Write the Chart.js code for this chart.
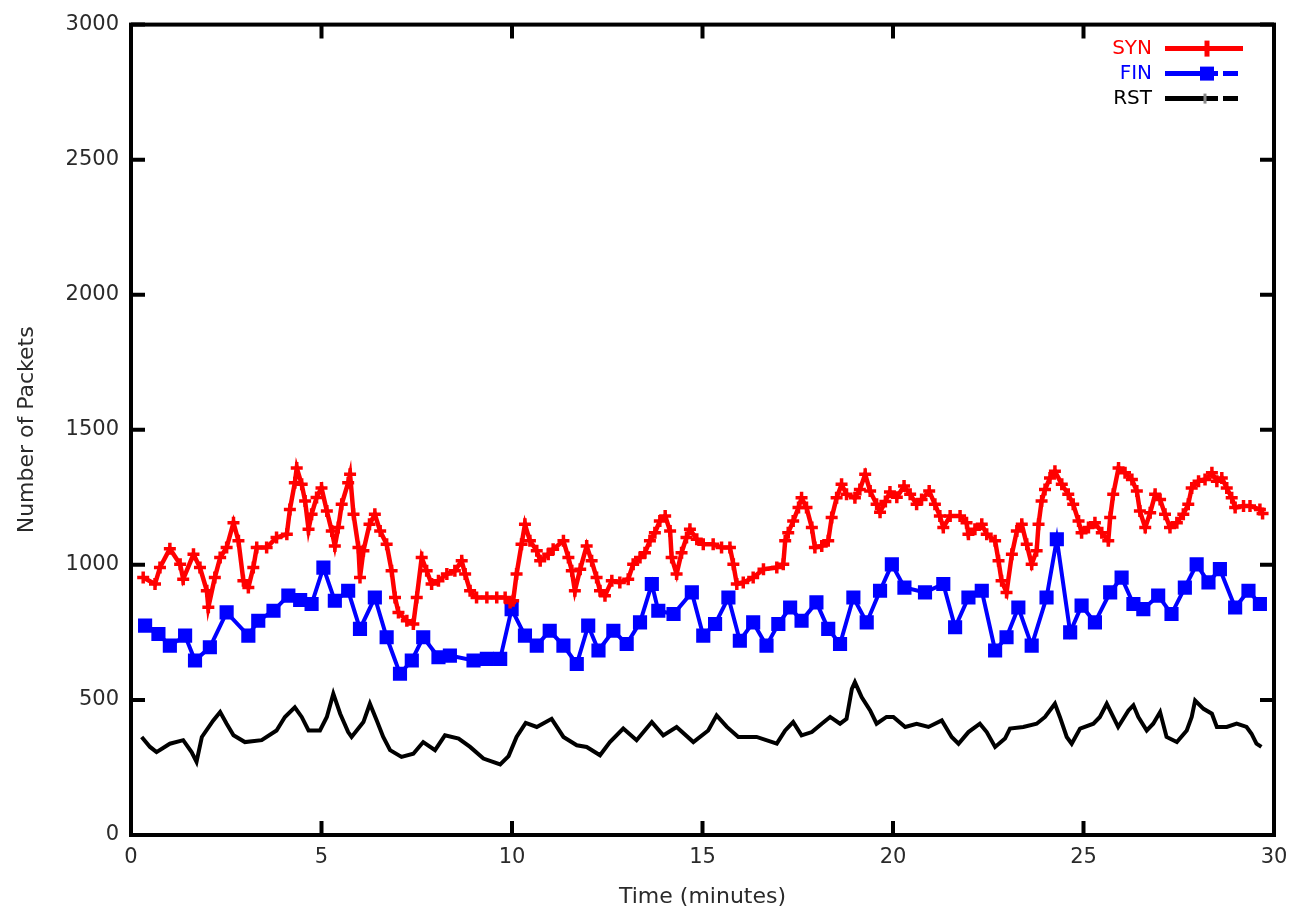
<!DOCTYPE html>
<html>
<head>
<meta charset="utf-8">
<script src="https://cdn.jsdelivr.net/npm/chart.js@4.4.1/dist/chart.umd.min.js"></script>
<style>
html,body{margin:0;padding:0;background:#fff;}
#wrap{width:1300px;height:916px;position:relative;}
</style>
</head>
<body>
<div id="wrap"><canvas id="c"></canvas></div>
<script>
const xTicks = [0, 5, 10, 15, 20, 25, 30];
const yTicks = [0, 500, 1000, 1500, 2000, 2500, 3000];
const seriesNames = ['SYN', 'FIN', 'RST'];

const synTime = [0.32,0.63,0.76,1.02,1.29,1.37,1.64,1.81,1.99,2.03,2.2,2.34,2.51,2.69,2.82,2.95,3.08,3.21,3.3,3.56,3.82,4.09,4.17,4.3,4.35,4.48,4.57,4.66,4.74,4.87,5.0,5.14,5.27,5.35,5.44,5.53,5.7,5.75,5.84,5.97,6.01,6.1,6.26,6.4,6.54,6.71,6.84,6.93,7.02,7.24,7.41,7.5,7.63,7.76,7.89,8.07,8.29,8.5,8.68,8.77,8.9,9.07,9.34,9.6,9.82,9.95,10.03,10.12,10.25,10.34,10.47,10.65,10.74,10.95,11.08,11.35,11.48,11.57,11.65,11.79,11.96,12.09,12.22,12.31,12.44,12.62,12.83,13.05,13.18,13.36,13.49,13.62,13.75,13.88,14.02,14.15,14.19,14.32,14.45,14.58,14.67,14.85,15.02,15.28,15.5,15.72,15.81,15.9,16.07,16.33,16.6,16.95,17.12,17.17,17.25,17.38,17.52,17.6,17.73,17.87,17.95,18.13,18.3,18.39,18.52,18.65,18.78,19.0,19.13,19.27,19.4,19.57,19.66,19.8,19.92,20.1,20.29,20.45,20.62,20.75,20.95,21.1,21.23,21.32,21.5,21.76,21.93,21.98,22.15,22.33,22.46,22.68,22.77,22.85,22.98,23.12,23.25,23.38,23.51,23.64,23.77,23.82,23.9,23.99,24.12,24.25,24.43,24.6,24.73,24.87,24.95,25.13,25.3,25.48,25.65,25.7,25.78,25.92,26.09,26.27,26.4,26.48,26.62,26.75,26.88,27.01,27.14,27.27,27.45,27.62,27.75,27.84,28.02,28.19,28.37,28.5,28.63,28.76,28.89,28.98,29.2,29.37,29.63,29.7];
const synValues = [953,929,990,1060,1002,947,1039,990,904,843,953,1027,1064,1156,1089,941,916,990,1064,1064,1101,1113,1205,1304,1359,1298,1236,1132,1187,1249,1285,1199,1125,1070,1138,1224,1304,1335,1187,1064,953,1052,1150,1187,1125,1076,978,879,824,793,781,879,1027,978,929,941,966,978,1015,966,904,879,879,879,879,861,867,966,1076,1150,1089,1052,1015,1039,1058,1089,1027,978,904,984,1070,1015,953,904,886,941,935,947,1002,1027,1045,1089,1119,1162,1181,1125,1027,966,1045,1101,1132,1095,1076,1076,1064,1064,1002,929,935,953,984,990,1002,1089,1119,1162,1212,1248,1212,1138,1064,1070,1089,1175,1248,1298,1261,1248,1279,1335,1273,1224,1195,1235,1270,1250,1292,1261,1224,1242,1273,1224,1181,1138,1181,1181,1156,1113,1132,1150,1113,1089,1015,941,898,1039,1125,1150,1076,1002,1052,1150,1236,1279,1322,1347,1298,1261,1224,1162,1119,1138,1156,1119,1089,1175,1261,1359,1341,1316,1273,1199,1138,1193,1261,1242,1187,1138,1156,1187,1224,1285,1310,1316,1341,1310,1322,1285,1248,1212,1218,1218,1205,1190];

const finTime = [0.37,0.72,1.02,1.42,1.68,2.07,2.51,3.08,3.34,3.74,4.13,4.44,4.74,5.05,5.35,5.7,6.01,6.4,6.71,7.06,7.37,7.67,8.07,8.37,8.99,9.34,9.69,9.99,10.34,10.65,10.99,11.35,11.7,12.0,12.27,12.66,13.01,13.36,13.67,13.84,14.24,14.72,15.02,15.33,15.68,15.98,16.33,16.68,16.99,17.3,17.6,17.99,18.3,18.61,18.96,19.31,19.66,19.97,20.3,20.84,21.32,21.63,21.98,22.33,22.68,22.98,23.29,23.64,24.03,24.3,24.65,24.95,25.3,25.7,26.0,26.31,26.57,26.96,27.31,27.66,27.97,28.28,28.58,28.98,29.33,29.63];
const finValues = [775,744,701,738,646,695,824,738,793,830,886,870,855,990,867,904,763,879,732,597,646,732,658,664,646,652,652,836,738,701,756,701,633,775,683,756,707,787,929,830,818,898,738,781,879,719,787,701,781,842,793,861,763,707,879,787,904,1002,916,898,929,769,879,904,683,732,842,701,879,1095,750,849,787,898,953,855,836,886,818,916,1002,935,984,842,904,855];

const rstTime = [0.28,0.5,0.67,1.02,1.37,1.59,1.72,1.86,2.16,2.34,2.51,2.69,2.99,3.43,3.82,4.04,4.3,4.48,4.66,4.96,5.14,5.31,5.49,5.7,5.79,6.1,6.27,6.45,6.62,6.8,7.1,7.41,7.67,7.98,8.24,8.6,8.9,9.25,9.69,9.91,10.12,10.36,10.65,11.04,11.35,11.7,11.96,12.31,12.57,12.92,13.27,13.67,13.97,14.32,14.76,15.15,15.37,15.64,15.94,16.42,16.95,17.17,17.38,17.6,17.87,18.13,18.35,18.61,18.78,18.92,19.0,19.18,19.4,19.57,19.83,20.01,20.32,20.62,20.93,21.28,21.54,21.72,21.98,22.28,22.46,22.68,22.94,23.07,23.42,23.77,23.99,24.25,24.38,24.56,24.69,24.91,25.26,25.43,25.61,25.78,25.91,26.18,26.31,26.44,26.66,26.83,27.01,27.18,27.45,27.71,27.84,27.93,28.15,28.37,28.5,28.76,29.02,29.28,29.41,29.54,29.67];
const rstValues = [363,326,307,338,351,307,271,363,424,455,412,369,344,351,387,437,473,437,387,387,437,523,449,381,363,418,486,424,363,314,289,301,344,314,369,357,326,283,261,292,363,415,400,430,363,332,326,295,344,394,351,418,369,400,344,387,443,400,363,363,338,387,418,369,381,412,437,412,430,541,566,510,461,412,437,437,400,412,400,424,363,338,381,412,381,326,357,394,400,412,437,486,437,363,338,394,412,437,486,437,400,461,480,437,387,412,455,363,344,387,437,498,467,449,400,400,412,400,375,338,326];

function pairs(t, v) { return t.map((x, i) => ({ x: x, y: v[i] })); }

const FONT = '"DejaVu Sans", sans-serif';
const TXT = '#2a2a2a';

const framePlugin = {
  id: 'frame',
  afterDatasetsDraw(chart) {
    const { ctx, chartArea: a, scales } = chart;
    ctx.save();
    ctx.strokeStyle = '#000';
    ctx.lineWidth = 4;
    ctx.lineCap = 'butt';
    const tl = 14;
    ctx.beginPath();
    scales.x.ticks.forEach(t => {
      const px = scales.x.getPixelForValue(t.value);
      ctx.moveTo(px, a.bottom); ctx.lineTo(px, a.bottom - tl);
      ctx.moveTo(px, a.top); ctx.lineTo(px, a.top + tl);
    });
    scales.y.ticks.forEach(t => {
      const py = scales.y.getPixelForValue(t.value);
      ctx.moveTo(a.left, py); ctx.lineTo(a.left + tl, py);
      ctx.moveTo(a.right, py); ctx.lineTo(a.right - tl, py);
    });
    ctx.stroke();
    ctx.strokeRect(a.left, a.top, a.right - a.left, a.bottom - a.top);

    // legend inside plot, top-right
    ctx.font = '20px ' + FONT;
    ctx.textAlign = 'right';
    ctx.textBaseline = 'middle';
    chart.data.datasets.forEach((ds, i) => {
      const yy = a.top + 24 + i * 25;
      const textRight = a.right - 122;
      ctx.fillStyle = ds.legendTextColor;
      ctx.fillText(ds.label, textRight, yy);
      const x0 = a.right - 109, x1 = a.right - 31;
      ctx.strokeStyle = ds.borderColor;
      ctx.lineWidth = 5;
      ctx.setLineDash(ds.legendDash || []);
      ctx.beginPath(); ctx.moveTo(x0, yy); ctx.lineTo(x1, yy); ctx.stroke();
      ctx.setLineDash([]);
      const mx = a.right - 67;
      if (ds.legendMarker === 'cross') {
        ctx.lineWidth = 5;
        ctx.beginPath(); ctx.moveTo(mx, yy - 8); ctx.lineTo(mx, yy + 8); ctx.stroke();
      } else if (ds.legendMarker === 'rect') {
        ctx.fillStyle = ds.borderColor;
        ctx.fillRect(mx - 7, yy - 7, 14, 14);
      } else {
        ctx.lineWidth = 3;
        ctx.strokeStyle = '#888';
        ctx.beginPath(); ctx.moveTo(mx - 2, yy - 5); ctx.lineTo(mx - 2, yy + 5); ctx.stroke();
      }
    });
    ctx.restore();
  }
};

const plainTick = v => String(v);

new Chart(document.getElementById('c'), {
  type: 'line',
  data: {
    datasets: [
      {
        label: seriesNames[0], data: pairs(synTime, synValues),
        borderColor: '#ff0000', backgroundColor: '#ff0000', legendTextColor: '#ff0000',
        borderWidth: 4.5, pointStyle: 'cross', pointRadius: 6, pointBorderWidth: 3.5,
        pointHoverRadius: 6, tension: 0, order: 1, legendMarker: 'cross'
      },
      {
        label: seriesNames[1], data: pairs(finTime, finValues),
        borderColor: '#0000ff', backgroundColor: '#0000ff', legendTextColor: '#0000ff',
        borderWidth: 4, pointStyle: 'rect', pointRadius: 10, pointBorderWidth: 0,
        pointHoverRadius: 10, tension: 0, legendDash: [53, 5, 15, 100], order: 2, legendMarker: 'rect'
      },
      {
        label: seriesNames[2], data: pairs(rstTime, rstValues),
        borderColor: '#000000', backgroundColor: '#000000', legendTextColor: '#000000',
        borderWidth: 4, pointStyle: 'cross', pointRadius: 0, pointBorderWidth: 0,
        pointHoverRadius: 0, tension: 0, legendDash: [53, 5, 15, 100], order: 3, legendMarker: 'small'
      }
    ]
  },
  options: {
    responsive: true,
    maintainAspectRatio: false,
    animation: false,
    events: [],
    layout: { padding: { top: 22, right: 26, left: 0, bottom: 0 } },
    plugins: { legend: { display: false }, tooltip: { enabled: false } },
    scales: {
      x: {
        type: 'linear', min: 0, max: 30,
        afterBuildTicks: s => { s.ticks = xTicks.map(v => ({ value: v })); },
        afterFit: s => { s.height = 81; },
        grid: { display: false, drawTicks: false },
        border: { display: false },
        ticks: { padding: 10, font: { family: FONT, size: 21 }, color: TXT, maxRotation: 0, callback: plainTick },
        title: { display: true, text: 'Time (minutes)', font: { family: FONT, size: 22 }, color: TXT, padding: { top: 0, bottom: 6 } }
      },
      y: {
        type: 'linear', min: 0, max: 3000,
        afterBuildTicks: s => { s.ticks = yTicks.map(v => ({ value: v })); },
        afterFit: s => { s.width = 131; },
        grid: { display: false, drawTicks: false },
        border: { display: false },
        ticks: { padding: 12, font: { family: FONT, size: 21 }, color: TXT, callback: plainTick },
        title: { display: true, text: 'Number of Packets', font: { family: FONT, size: 22 }, color: TXT, padding: { top: 14, bottom: 0 } }
      }
    }
  },
  plugins: [framePlugin]
});
</script>
</body>
</html>
